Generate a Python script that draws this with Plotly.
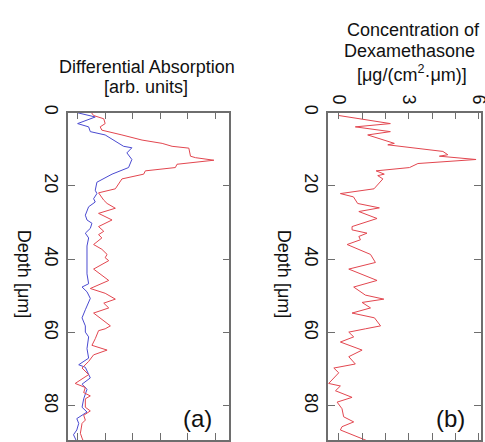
import plotly.graph_objects as go

# ---------------- data ----------------
# Panel (a): differential absorption [arb. units] vs depth [um]
depth_red_a = [0.0, 0.8, 1.7, 3.0, 3.9, 4.8, 6.1, 7.5, 8.4, 9.2, 9.7, 11.9, 12.3, 13.0, 14.1, 15.0,
               15.9, 16.8, 18.1, 19.5, 20.8, 21.9, 23.9, 24.8, 26.1, 27.5, 28.3, 29.3, 31.1, 32.4,
               33.3, 34.2, 36.0, 37.3, 38.7, 39.6, 40.4, 42.7, 45.8, 48.0, 49.3, 50.9, 52.0, 53.3,
               54.7, 58.2, 59.0, 59.5, 61.7, 63.5, 64.8, 66.1, 67.9, 69.7, 71.5, 73.9, 75.0, 76.4,
               77.3, 78.1, 80.4, 81.4, 82.6, 83.9, 84.8, 87.5, 88.8, 89.5]
absorb_red = [0.50, 0.58, 0.95, 1.00, 0.82, 0.88, 1.61, 2.34, 3.07, 3.43, 4.04, 4.10, 4.28, 4.95, 3.61, 3.55,
              2.46, 2.40, 1.61, 1.49, 1.37, 0.76, 0.95, 1.07, 1.37, 0.76, 1.00, 1.25, 0.76, 0.95,
              0.76, 0.88, 0.58, 0.88, 1.07, 1.00, 1.13, 0.58, 1.13, 0.46, 1.00, 1.37, 0.95, 1.13,
              0.58, 1.19, 1.00, 0.76, 0.64, 0.52, 1.07, 0.58, 0.40, 0.16, 0.40, -0.09, 0.28, 0.22,
              0.46, 0.28, 0.28, 0.46, 0.22, 0.28, 0.16, 0.10, 0.16, 0.20]

depth_blue_a = [0.0, 1.2, 3.0, 3.9, 5.2, 6.1, 9.2, 9.6, 11.0, 12.8, 15.0, 16.8, 19.0, 21.2, 22.1, 23.5,
                24.4, 25.7, 28.0, 29.3, 30.2, 31.6, 32.9, 34.2, 36.4, 44.0, 46.7, 47.6, 48.9, 50.7,
                53.8, 55.1, 56.0, 58.2, 59.9, 61.2, 64.4, 67.0, 68.8, 69.5, 72.4, 74.1, 75.5, 78.1,
                80.4, 81.7, 83.5, 84.8, 86.6, 87.9, 88.8, 89.5]
absorb_blue = [-0.03, 0.64, 0.00, 0.40, 0.46, 1.00, 1.67, 1.97, 1.79, 1.97, 1.85, 1.25, 0.70, 0.64, 0.70, 0.58,
               0.64, 0.40, 0.28, 0.34, 0.52, 0.46, 0.28, 0.40, 0.34, 0.34, 0.40, 0.16, 0.34, 0.46,
               0.28, 0.22, 0.16, 0.28, 0.28, 0.40, 0.34, 0.40, 0.04, 0.28, 0.46, 0.16, 0.34, 0.22,
               0.16, 0.34, -0.03, 0.04, -0.03, -0.15, -0.09, -0.05]

# Panel (b): concentration of dexamethasone [ug/(cm^2 um)] vs depth [um]
depth_b = [0.8, 3.0, 3.9, 5.2, 6.1, 8.4, 8.8, 10.6, 11.5, 11.9, 12.8, 13.9, 15.0, 15.9, 16.8, 17.2,
           18.1, 20.8, 22.1, 23.0, 24.8, 26.0, 27.0, 28.4, 28.9, 31.1, 32.0, 32.9, 33.8, 34.7,
           36.0, 38.7, 40.9, 42.7, 45.8, 47.6, 49.8, 50.9, 51.8, 53.3, 54.7, 56.0, 58.2, 59.0,
           59.9, 61.2, 62.6, 64.8, 66.6, 68.6, 69.7, 71.0, 73.9, 74.6, 75.9, 77.7, 79.0, 80.8,
           83.0, 84.4, 85.7, 86.6, 87.9, 88.8, 89.5]
conc_b = [0.00, 2.21, 0.71, 2.21, 1.24, 2.38, 2.10, 4.46, 4.67, 4.31, 5.88, 3.39, 3.03, 1.60, 1.95, 1.67,
          1.89, 1.51, 0.07, 0.63, 0.81, 1.74, 0.86, 1.43, 1.64, 0.57, 0.57, 1.21, 0.86, 0.93,
          0.36, 1.36, 1.57, 0.43, 1.64, 0.64, 1.14, 1.93, 1.00, 1.36, 0.57, 1.53, 1.79, 1.14,
          0.43, 0.64, 0.07, 1.00, 0.43, 0.71, -0.21, 0.00, -0.43, 0.07, -0.14, 0.57, -0.07, 0.14,
          0.21, 0.64, 0.14, 0.07, 0.57, 1.00, 1.20]

depth_ticks = [0, 20, 40, 60, 80]
conc_labels = [0, 3, 6]
absorb_ticks = [0, 1, 2, 3, 4, 5]

# ---------------- figure ----------------
W, H = 485, 442
FONT = "Arial, Liberation Sans, sans-serif"
RED = "#e2464f"
BLUE = "#4a4ad0"
FRAME = "#6e6e6e"

def px(x):
    return x / W

def py(y):
    return (H - y) / H

fig = go.Figure()
fig.add_trace(go.Scatter(x=absorb_blue, y=depth_blue_a, mode="lines",
                         line=dict(color=BLUE, width=1), xaxis="x", yaxis="y"))
fig.add_trace(go.Scatter(x=absorb_red, y=depth_red_a, mode="lines",
                         line=dict(color=RED, width=1), xaxis="x", yaxis="y"))
fig.add_trace(go.Scatter(x=conc_b, y=depth_b, mode="lines",
                         line=dict(color=RED, width=1), xaxis="x2", yaxis="y2"))

y_top = 107
ydom = [0, py(y_top)]
yrange = [(H - y_top) / 3.75, 0]

common_x = dict(showline=True, linecolor=FRAME, linewidth=1.5, mirror="ticks",
                ticks="inside", ticklen=7, tickcolor=FRAME, tickwidth=1,
                showgrid=False, zeroline=False, side="top")
common_y = dict(showline=True, linecolor=FRAME, linewidth=1.5, mirror="ticks",
                ticks="inside", ticklen=7, tickcolor=FRAME, tickwidth=1,
                showgrid=False, zeroline=False, tickvals=depth_ticks,
                tickangle=90, tickfont=dict(family=FONT, size=18, color="#111"),
                range=yrange, domain=ydom, ticklabeloverflow="allow")

fig.update_layout(
    width=W, height=H, margin=dict(l=0, r=0, t=0, b=0),
    paper_bgcolor="white", plot_bgcolor="white", showlegend=False,
    font=dict(family=FONT, size=18, color="#111"),
    xaxis=dict(domain=[px(68), px(229.3)], range=[-0.35, 5.51], anchor="y",
               tickvals=absorb_ticks, showticklabels=False, **common_x),
    yaxis=dict(anchor="x", **common_y),
    xaxis2=dict(domain=[px(328), px(480.5)], range=[-0.46, 6.07], anchor="y2",
                tickvals=conc_labels, showticklabels=True,
                minor=dict(tick0=0, dtick=1, ticks="inside", ticklen=7,
                           tickcolor=FRAME, tickwidth=1, showgrid=False),
                tickangle=90, tickfont=dict(family=FONT, size=18, color="#111"),
                ticklabeloverflow="allow", automargin=False, **common_x),
    yaxis2=dict(anchor="x2", **common_y),
)

ann = []
def text(s, x, y, size=18, angle=0):
    ann.append(dict(text=s, x=px(x), y=py(y), xref="paper", yref="paper",
                    showarrow=False, xanchor="center", yanchor="middle",
                    textangle=angle, font=dict(family=FONT, size=size, color="#111")))

text("Differential Absorption", 146.5, 60)
text("[arb. units]", 146, 81)
text("Concentration of", 413, 22)
text("Dexamethasone", 409, 44)
text("[μg/(cm<sup>2</sup>·μm)]", 412, 67)
text("Depth [μm]", 24, 272, angle=90)
text("Depth [μm]", 284, 272, angle=90)
text("(a)", 197, 420, size=24)
text("(b)", 450, 420, size=24)
fig.update_layout(annotations=ann)

fig.write_html("out.html")
